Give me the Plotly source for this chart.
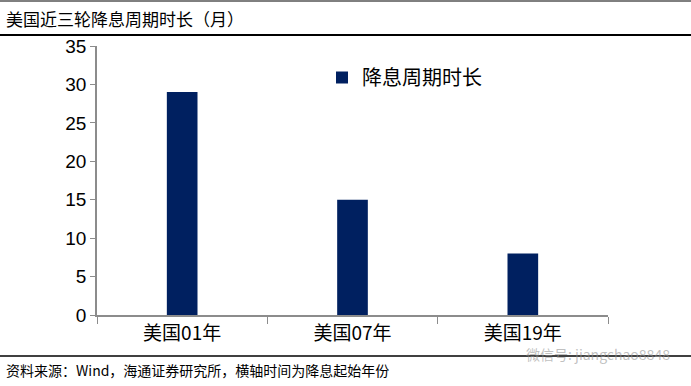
import plotly.graph_objects as go

categories = ["美国01年", "美国07年", "美国19年"]
values = [29, 15, 8]
series_name = "降息周期时长"
title_text = "美国近三轮降息周期时长（月）"
source_text = "资料来源：Wind，海通证券研究所，横轴时间为降息起始年份"
y_ticks = [0, 5, 10, 15, 20, 25, 30, 35]

W, H = 691, 386
L, R, T, B = 97, 83, 46, 71
ph = H - T - B
pw = W - L - R

def py(p):
    return (H - B - p) / ph

def px(p):
    return (p - L) / pw

fig = go.Figure()
fig.add_trace(go.Bar(
    x=categories, y=values, name=series_name,
    marker=dict(color="#002060", line=dict(width=0)),
    width=0.18,
))

fig.update_layout(
    width=W, height=H,
    margin=dict(l=L, r=R, t=T, b=B),
    paper_bgcolor="white", plot_bgcolor="white",
    showlegend=True,
    legend=dict(x=px(322), y=py(58), xanchor="left", yanchor="top",
                font=dict(family="Noto Sans CJK SC", size=20, color="black"),
                bgcolor="rgba(0,0,0,0)", itemwidth=30),
    font=dict(family="Liberation Sans, Arial", color="black"),
)
fig.update_xaxes(
    showline=True, linecolor="#8c8c8c", linewidth=1.5,
    ticks="outside", tickson="boundaries", ticklen=7, tickcolor="#8c8c8c",
    tickfont=dict(family="Noto Sans CJK SC, Liberation Sans", size=19, color="black"),
    showgrid=False, fixedrange=True,
)
fig.update_yaxes(
    range=[0, 35], tickvals=y_ticks, showline=True, linecolor="#8c8c8c", linewidth=1.5,
    ticks="outside", ticklen=5, tickcolor="#8c8c8c",
    tickfont=dict(family="Liberation Sans, Arial", size=19, color="black"),
    showgrid=False, zeroline=False, fixedrange=True,
)

shapes = [
    dict(type="line", xref="paper", yref="paper", x0=px(0), x1=px(W), y0=py(1), y1=py(1),
         line=dict(color="black", width=1)),
    dict(type="line", xref="paper", yref="paper", x0=px(0), x1=px(W), y0=py(35), y1=py(35),
         line=dict(color="black", width=2)),
    dict(type="line", xref="paper", yref="paper", x0=px(0), x1=px(W), y0=py(356), y1=py(356),
         line=dict(color="black", width=1.5)),
]
fig.update_layout(shapes=shapes)

fig.add_annotation(text=title_text, xref="paper", yref="paper", x=px(4), y=py(18),
                   xanchor="left", yanchor="middle", showarrow=False,
                   font=dict(family="Noto Sans CJK SC", size=17, color="black"))
fig.add_annotation(text=source_text, xref="paper", yref="paper", x=px(4), y=py(370),
                   xanchor="left", yanchor="middle", showarrow=False,
                   font=dict(family="Noto Sans CJK SC", size=14, color="black"))
fig.add_annotation(text="微信号: jiangchao8848", xref="paper", yref="paper", x=px(672), y=py(354),
                   xanchor="right", yanchor="middle", showarrow=False,
                   font=dict(family="Noto Sans CJK SC", size=14, color="rgba(150,150,150,0.6)"))

fig.write_html("out.html", config={"displayModeBar": False},
               post_script="document.body.style.margin='0';")
